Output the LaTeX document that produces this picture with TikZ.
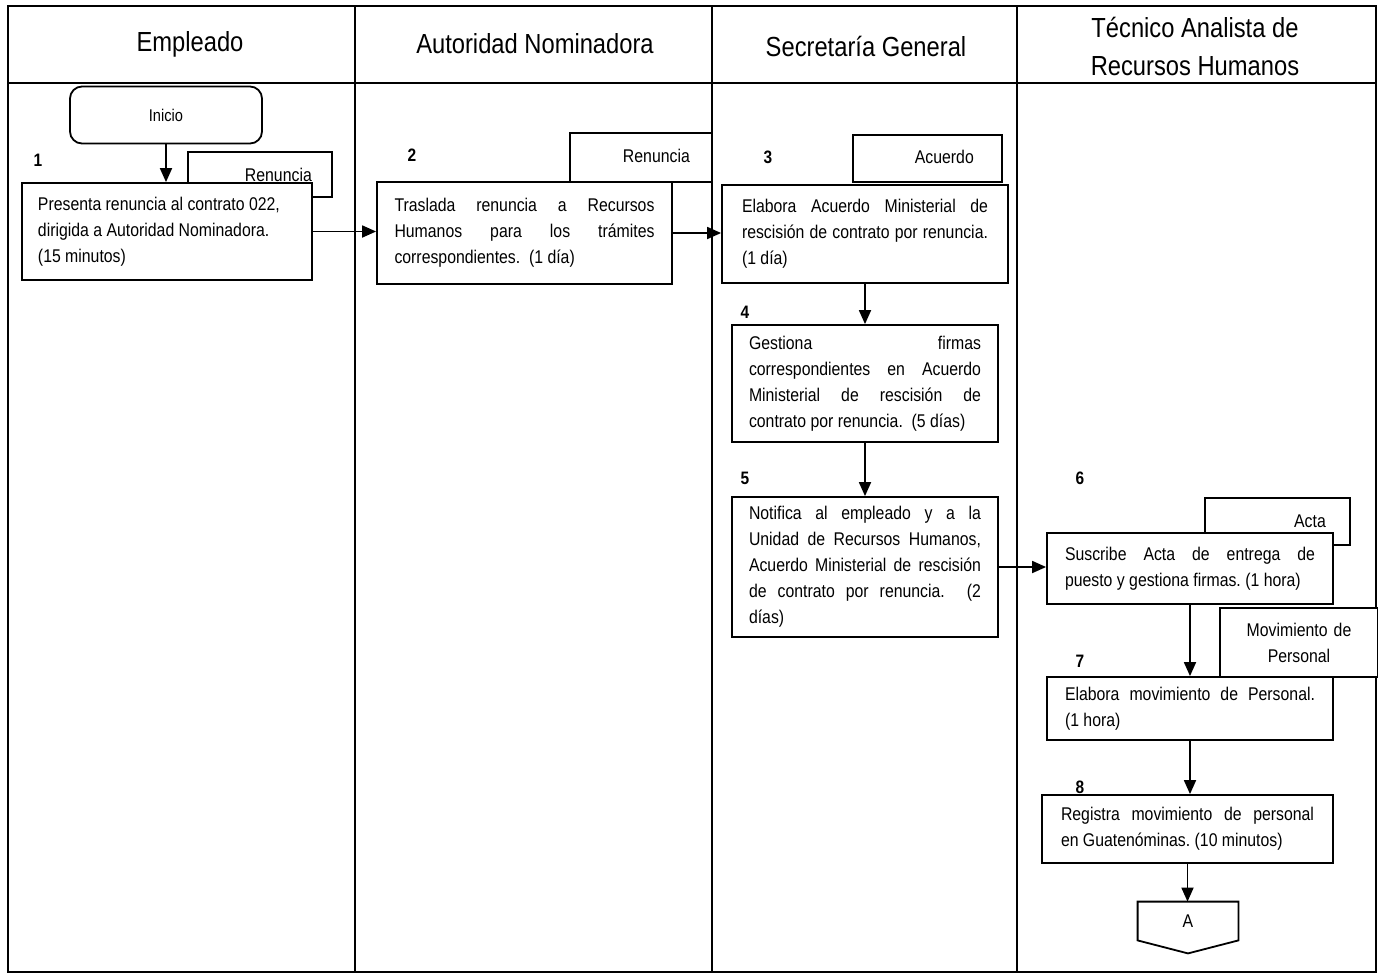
\documentclass[tikz,border=0pt]{standalone}
\usepackage{fontspec}
\setmainfont{Liberation Sans}[FakeStretch=0.86]
\usetikzlibrary{arrows.meta,calc}
\newcommand{\jl}[1]{{\spaceskip=0pt\xspaceskip=0pt\makebox[\hsize][s]{#1}}}
\newcommand{\bodyfont}{\fontsize{9.2}{13}\selectfont}
\tikzset{
  lane/.style={line width=0.8pt},
  hdr/.style={font=\fontsize{13.8}{19}\selectfont, align=center},
  box/.style={draw, line width=0.9pt, fill=white, inner sep=0pt, font=\bodyfont, align=justify},
  doc/.style={draw, line width=0.9pt, fill=white, inner sep=0pt, font=\bodyfont},
  num/.style={font=\bfseries\fontsize{9}{11}\selectfont},
  arr/.style={line width=0.9pt, -{Triangle[length=7pt,width=6pt]}},
}
\begin{document}
\begin{tikzpicture}[x=0.5pt,y=-0.5pt]
\useasboundingbox (0,0) rectangle (1378,976);
% swimlane frame
\draw[lane] (8,6) rectangle (1376,972);
\draw[lane] (8,83) -- (1376,83);
\draw[lane] (355,6) -- (355,972);
\draw[lane] (712,6) -- (712,972);
\draw[lane] (1017,6) -- (1017,972);
% headers
\node[hdr] (h1) at (190,44) {Empleado};
\node[hdr] (h2) at (535,44) {Autoridad Nominadora};
\node[hdr] (h3) at (866,46) {Secretaría General};
\node[hdr] (h4) at (1195,46) {Técnico Analista de\\Recursos Humanos};
% start
\node[draw, line width=0.9pt, rounded corners=6pt, minimum width=96pt, minimum height=28.5pt, font=\fontsize{8.5}{11}\selectfont] (inicio) at (166,115) {Inicio};
% documents
\node[doc, minimum width=72pt, minimum height=22.5pt, label={[anchor=east,xshift=-7pt,font=\bodyfont]east:Renuncia}] (d1) at (260,174.5) {};
\node[doc, minimum width=71pt, minimum height=24.5pt, label={[anchor=east,xshift=-8pt,yshift=1pt,font=\bodyfont]east:Renuncia}] (d2) at (641,157.5) {};
\node[doc, minimum width=74.5pt, minimum height=23.5pt, label={[anchor=east,xshift=-11pt,yshift=1pt,font=\bodyfont]east:Acuerdo}] (d3) at (927.5,158.5) {};
\node[doc, minimum width=72.5pt, minimum height=23.5pt, label={[anchor=east,xshift=-9pt,font=\bodyfont]east:Acta}] (d6) at (1277.5,521.5) {};
\node[doc, minimum width=79pt, minimum height=34.5pt, text width=79pt, align=center] (d7) at (1299,642.5) {Movimiento de\\Personal};
% numbers
\node[num] (n1) at (38,160) {1};
\node[num] (n2) at (412,155) {2};
\node[num] (n3) at (768,157) {3};
\node[num] (n4) at (745,312) {4};
\node[num] (n5) at (745,478) {5};
\node[num] (n6) at (1080,478) {6};
\node[num] (n7) at (1080,661) {7};
\node[num] (n8) at (1080,787) {8};
% process boxes
\node[box, minimum width=145pt, minimum height=48.5pt, text width=129pt] (b1) at (167,231.5)
  {Presenta renuncia al contrato 022,\\dirigida a Autoridad Nominadora.\\(15 minutos)};
\node[box, minimum width=147.5pt, minimum height=51pt, text width=130pt] (b2) at (524.5,233)
  {\jl{Traslada renuncia a Recursos}\\\jl{Humanos para los trámites}\\correspondientes.\ \ (1 día)};
\node[box, minimum width=143pt, minimum height=49pt, text width=123pt] (b3) at (865,234)
  {\jl{Elabora Acuerdo Ministerial de}\\\jl{rescisión de contrato por renuncia.}\\(1 día)};
\node[box, minimum width=133pt, minimum height=58.5pt, text width=116pt] (b4) at (865,383.5)
  {\jl{Gestiona firmas}\\\jl{correspondientes en Acuerdo}\\\jl{Ministerial de rescisión de}\\contrato por renuncia.\ \ (5 días)};
\node[box, minimum width=133pt, minimum height=70pt, text width=116pt] (b5) at (865,567)
  {\jl{Notifica al empleado y a la}\\\jl{Unidad de Recursos Humanos,}\\\jl{Acuerdo Ministerial de rescisión}\\\jl{de contrato por renuncia.\ \ (2}\\días)};
\node[box, minimum width=143pt, minimum height=35.5pt, text width=125pt] (b6) at (1190,568.5)
  {\jl{Suscribe Acta de entrega de}\\puesto y gestiona firmas.\ (1 hora)};
\node[box, minimum width=143pt, minimum height=31.5pt, text width=125pt] (b7) at (1190,708.5)
  {\jl{Elabora movimiento de Personal.}\\(1 hora)};
\node[box, minimum width=145.5pt, minimum height=34pt, text width=126.5pt] (b8) at (1187.5,829)
  {\jl{Registra movimiento de personal}\\en Guatenóminas.\ (10 minutos)};
% off-page connector
\node[minimum width=50pt, minimum height=19pt, inner sep=0pt, font=\bodyfont] (A) at (1188,921) {A};
\draw[line width=0.9pt] (A.north west) -- (A.north east) -- (A.south east) -- ($(A.south)+(0,13)$) -- (A.south west) -- cycle;
% connectors
\draw[arr] (inicio.south) -- (inicio.south |- b1.north);
\draw[arr] (b1.east) -- (b1.east -| b2.west);
\draw[arr] (b2.east) -- (b2.east -| b3.west);
\draw[arr] (b3.south) -- (b4.north);
\draw[arr] (b4.south) -- (b5.north);
\draw[arr] (b5.east) -- (b5.east -| b6.west);
\draw[arr] (b6.south) -- (b7.north);
\draw[arr] (b7.south) -- (b7.south |- b8.north);
\draw[arr] (b8.south) -- (b8.south |- A.north);
\end{tikzpicture}
\end{document}
